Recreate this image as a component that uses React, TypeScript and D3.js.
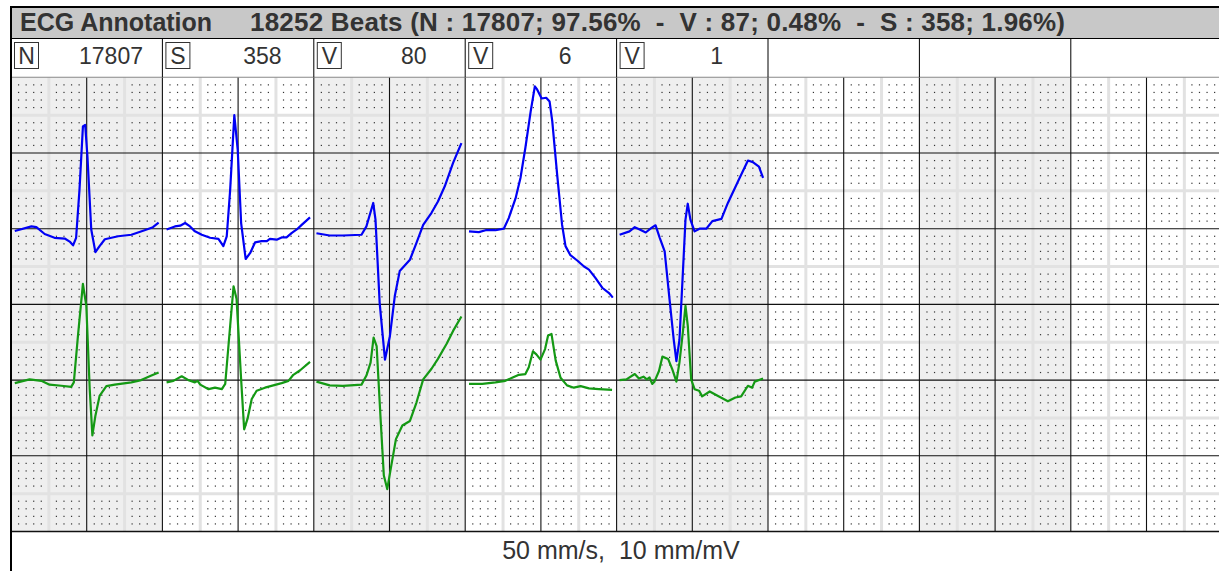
import React, { useRef, useEffect } from "react";
import { select, scaleLinear, line, range } from "d3";

// beat header
const titleLeft = "ECG Annotation";
const titleRight = "18252 Beats (N : 17807; 97.56%  -  V : 87; 0.48%  -  S : 358; 1.96%)";
const footerText = "50 mm/s,  10 mm/mV";

const beatTypes = ["N", "S", "V", "V", "V"];
const beatCounts = [17807, 358, 80, 6, 1];
const panelCount = 8;

// traces: [ms, mV], 0 ms = panel left edge
const lead1N = [[10,-0.03],[54,0.03],[67,0.02],[89,-0.07],[115,-0.12],[142,-0.13],[155,-0.17],[164,-0.22],[172,-0.12],[181,0.52],[190,1.35],[196,1.37],[202,0.95],[212,-0.01],[223,-0.31],[234,-0.23],[248,-0.14],[283,-0.10],[318,-0.08],[353,-0.02],[375,0.02],[390,0.08]];
const lead2N = [[10,-0.04],[49,0.01],[80,-0.01],[102,-0.06],[133,-0.075],[159,-0.09],[166,-0.03],[177,0.59],[190,1.27],[199,0.98],[208,-0.12],[215,-0.73],[223,-0.47],[234,-0.21],[252,-0.08],[274,-0.06],[318,-0.03],[344,0.0],[371,0.06],[390,0.10]];

const lead1S = [[11,-0.01],[33,0.03],[47,0.04],[60,0.075],[73,0.03],[86,-0.035],[104,-0.08],[126,-0.12],[148,-0.135],[161,-0.23],[170,-0.10],[179,0.51],[190,1.50],[199,1.04],[208,0.075],[220,-0.40],[232,-0.32],[245,-0.18],[262,-0.165],[276,-0.165],[284,-0.135],[302,-0.145],[315,-0.115],[328,-0.115],[342,-0.055],[355,-0.01],[368,0.05],[390,0.15]];
const lead2S = [[11,-0.03],[29,-0.01],[51,0.05],[69,0.0],[86,-0.03],[93,-0.01],[100,-0.06],[122,-0.12],[139,-0.10],[157,-0.12],[166,-0.05],[176,0.54],[188,1.24],[196,1.07],[208,0.01],[216,-0.65],[225,-0.51],[236,-0.25],[249,-0.14],[271,-0.10],[293,-0.07],[315,-0.04],[333,-0.01],[346,0.07],[364,0.13],[390,0.24]];

const lead1V1 = [[7,-0.06],[42,-0.09],[77,-0.09],[126,-0.08],[139,0.03],[157,0.34],[163,0.12],[174,-0.98],[188,-1.73],[201,-1.42],[214,-0.89],[227,-0.56],[254,-0.41],[271,-0.19],[289,0.05],[311,0.21],[328,0.36],[346,0.56],[368,0.87],[390,1.13]];
const lead2V1 = [[7,-0.02],[42,-0.07],[77,-0.075],[126,-0.06],[139,0.06],[150,0.23],[158,0.56],[166,0.45],[176,-0.47],[185,-1.26],[194,-1.44],[203,-1.18],[217,-0.78],[234,-0.60],[254,-0.54],[271,-0.30],[289,0.01],[311,0.15],[328,0.28],[351,0.48],[368,0.65],[390,0.84]];

const lead1V2 = [[10,-0.035],[36,-0.045],[54,-0.02],[80,-0.02],[102,0],[115,0.14],[133,0.40],[146,0.67],[159,1.07],[173,1.55],[184,1.88],[190,1.84],[202,1.72],[214,1.73],[223,1.68],[230,1.42],[243,0.71],[256,0.05],[265,-0.23],[278,-0.35],[296,-0.42],[314,-0.50],[327,-0.54],[344,-0.65],[362,-0.78],[380,-0.85],[390,-0.91]];
const lead2V2 = [[10,-0.05],[45,-0.05],[80,-0.03],[106,-0.01],[124,0.03],[142,0.07],[159,0.08],[168,0.17],[179,0.38],[188,0.34],[199,0.27],[211,0.41],[219,0.59],[228,0.61],[239,0.26],[252,0.03],[269,-0.07],[287,-0.10],[305,-0.08],[327,-0.11],[353,-0.12],[388,-0.13]];

const lead1V3 = [[8,-0.08],[34,-0.035],[48,0.02],[61,-0.01],[77,-0.05],[92,0.01],[103,0.045],[114,-0.12],[127,-0.30],[140,-0.94],[151,-1.47],[158,-1.75],[166,-1.47],[175,-0.59],[182,0.12],[188,0.33],[195,0.12],[206,-0.035],[219,0],[237,0],[253,0.10],[277,0.13],[294,0.34],[325,0.67],[347,0.90],[360,0.88],[376,0.82],[387,0.67]];
const lead2V3 = [[8,0.0],[26,0.01],[48,0.08],[59,0.02],[71,0.045],[80,0.01],[87,0.035],[94,-0.05],[100,-0.02],[112,0.12],[121,0.31],[136,0.28],[147,0.145],[158,-0.02],[166,0.23],[175,0.63],[182,0.98],[188,0.72],[197,0.01],[206,-0.12],[218,-0.14],[226,-0.215],[246,-0.15],[268,-0.21],[294,-0.28],[314,-0.23],[329,-0.215],[347,-0.075],[358,-0.10],[365,-0.02],[387,0.02]];

const lead1Traces = [lead1N, lead1S, lead1V1, lead1V2, lead1V3];
const lead2Traces = [lead2N, lead2S, lead2V1, lead2V2, lead2V3];

export default function App() {
  const svgRef = useRef(null);

  useEffect(() => {
    const svg = select(svgRef.current);
    svg.selectAll("*").remove();

    const W = 1219, H = 571;
    const left = 11;
    const mm = 7.57;
    const gridTop = 77.3;
    const panelMm = 20;
    const font = "'Liberation Sans', Arial, sans-serif";

    // mm grid scales
    const xMm = scaleLinear().domain([0, panelCount * panelMm]).range([left, left + panelCount * panelMm * mm]);
    const yMm = scaleLinear().domain([0, 60]).range([gridTop, gridTop + 60 * mm]);
    // 10 mm/mV, lead 1 baseline at 20 mm, lead 2 at 40 mm
    const yMv = scaleLinear().domain([2, -4]).range([gridTop, gridTop + 60 * mm]);
    const gridBottom = yMm(60);

    svg.append("rect").attr("x", 0).attr("y", 0).attr("width", W).attr("height", H).attr("fill", "#fff");

    // header bar
    svg.append("rect").attr("x", left).attr("y", 7).attr("width", W - left).attr("height", 31).attr("fill", "#c8c8c8");
    svg.append("line").attr("x1", left).attr("x2", W).attr("y1", 7).attr("y2", 7).attr("stroke", "#000").attr("stroke-width", 2);
    svg.append("line").attr("x1", left).attr("x2", W).attr("y1", 38.5).attr("y2", 38.5).attr("stroke", "#000").attr("stroke-width", 1);
    svg.append("text").attr("x", 20).attr("y", 31).text(titleLeft)
      .attr("font-family", font).attr("font-size", 25).attr("font-weight", "bold").attr("fill", "#333");
    svg.append("text").attr("x", 250).attr("y", 31).text(titleRight).style("white-space", "pre")
      .attr("textLength", 815).attr("lengthAdjust", "spacing")
      .attr("font-family", font).attr("font-size", 26).attr("font-weight", "bold").attr("fill", "#333");

    // panel shading
    svg.selectAll(".panel").data(range(panelCount)).join("rect")
      .attr("class", "panel")
      .attr("x", d => xMm(d * panelMm)).attr("y", gridTop)
      .attr("width", panelMm * mm).attr("height", gridBottom - gridTop)
      .attr("fill", d => d % 2 === 0 ? "#efefef" : "#fff");

    // 5 mm lines
    const fiveV = range(5, panelCount * panelMm, 10);
    const fiveH = range(5, 60, 10);
    svg.selectAll(".v5").data(fiveV).join("line").attr("class", "v5")
      .attr("x1", d => xMm(d)).attr("x2", d => xMm(d)).attr("y1", gridTop).attr("y2", gridBottom)
      .attr("stroke", "#e2e2e2").attr("stroke-width", 3);
    svg.selectAll(".h5").data(fiveH).join("line").attr("class", "h5")
      .attr("x1", left).attr("x2", W).attr("y1", d => yMm(d)).attr("y2", d => yMm(d))
      .attr("stroke", "#e2e2e2").attr("stroke-width", 3);

    // 1 mm dots
    const dotX = range(0, panelCount * panelMm).filter(d => d % 5 !== 0);
    const dotY = range(0, 60).filter(d => d % 5 !== 0);
    const dots = [];
    dotX.forEach(a => dotY.forEach(b => dots.push([a, b])));
    svg.selectAll(".dot").data(dots).join("rect").attr("class", "dot")
      .attr("x", d => xMm(d[0]) - 0.6).attr("y", d => yMm(d[1]) - 0.6)
      .attr("width", 1.2).attr("height", 1.2).attr("fill", "#333");

    // 10 mm lines
    svg.selectAll(".v10").data(range(10, panelCount * panelMm, 10)).join("line").attr("class", "v10")
      .attr("x1", d => xMm(d)).attr("x2", d => xMm(d)).attr("y1", gridTop).attr("y2", gridBottom)
      .attr("stroke", "#111").attr("stroke-width", 1.1);
    svg.selectAll(".h10").data(range(0, 61, 10)).join("line").attr("class", "h10")
      .attr("x1", left).attr("x2", W).attr("y1", d => yMm(d)).attr("y2", d => yMm(d))
      .attr("stroke", d => d === 0 ? "#888" : "#111").attr("stroke-width", d => d === 60 ? 1.6 : 1.1);

    // label row separators
    svg.selectAll(".sep").data(range(1, panelCount)).join("line").attr("class", "sep")
      .attr("x1", d => xMm(d * panelMm)).attr("x2", d => xMm(d * panelMm)).attr("y1", 38.5).attr("y2", gridTop)
      .attr("stroke", "#000").attr("stroke-width", 1);

    // beat labels
    const lab = svg.selectAll(".lab").data(beatTypes).join("g").attr("class", "lab")
      .attr("transform", (d, i) => `translate(${xMm(i * panelMm)},0)`);
    lab.append("rect").attr("x", 3.5).attr("y", 42.5).attr("width", 24).attr("height", 26)
      .attr("fill", "none").attr("stroke", "#333").attr("stroke-width", 1);
    lab.append("text").attr("x", 15.5).attr("y", 64).attr("text-anchor", "middle").text(d => d)
      .attr("font-family", font).attr("font-size", 23).attr("fill", "#333");
    lab.append("text").attr("x", 100).attr("y", 64).attr("text-anchor", "middle").text((d, i) => beatCounts[i])
      .attr("font-family", font).attr("font-size", 23).attr("fill", "#333");

    // traces
    const traceLine = (i, lead) => line()
      .x(d => xMm(i * panelMm + d[0] / 20))
      .y(d => yMv(d[1] - lead * 2));
    lead1Traces.forEach((t, i) => {
      svg.append("path").attr("d", traceLine(i, 0)(t)).attr("fill", "none")
        .attr("stroke", "#0000f5").attr("stroke-width", 2.2).attr("stroke-linejoin", "round");
    });
    lead2Traces.forEach((t, i) => {
      svg.append("path").attr("d", traceLine(i, 1)(t)).attr("fill", "none")
        .attr("stroke", "#149914").attr("stroke-width", 2.2).attr("stroke-linejoin", "round");
    });

    // left frame
    svg.append("line").attr("x1", left).attr("x2", left).attr("y1", 6).attr("y2", H)
      .attr("stroke", "#000").attr("stroke-width", 2);

    // footer
    svg.append("text").attr("x", 621).attr("y", 559).attr("text-anchor", "middle").text(footerText)
      .style("white-space", "pre")
      .attr("font-family", font).attr("font-size", 25).attr("fill", "#333");
  }, []);

  return (
    <div style={{ position: "fixed", left: 0, top: 0 }}>
      <svg ref={svgRef} width={1219} height={571} style={{ display: "block" }} />
    </div>
  );
}
